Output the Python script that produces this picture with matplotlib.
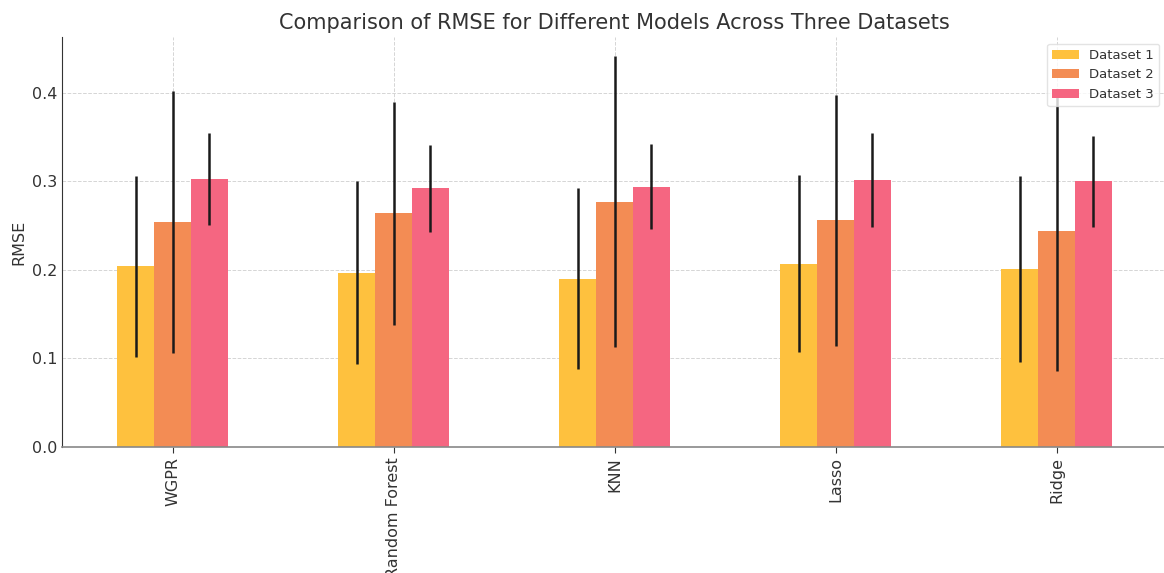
import matplotlib
matplotlib.use("Agg")
import matplotlib.pyplot as plt
import numpy as np

models = ["WGPR", "Random Forest", "KNN", "Lasso", "Ridge"]
series_names = ["Dataset 1", "Dataset 2", "Dataset 3"]
rmse_d1 = [0.204, 0.197, 0.190, 0.207, 0.201]
rmse_d2 = [0.254, 0.264, 0.277, 0.256, 0.244]
rmse_d3 = [0.303, 0.292, 0.294, 0.302, 0.300]
err_d1 = [0.102, 0.103, 0.102, 0.100, 0.105]
err_d2 = [0.148, 0.126, 0.164, 0.142, 0.158]
err_d3 = [0.052, 0.049, 0.048, 0.053, 0.051]

colors = ["#FEC13E", "#F38C54", "#F56681"]
values = [rmse_d1, rmse_d2, rmse_d3]
errors = [err_d1, err_d2, err_d3]

fig = plt.figure(figsize=(11.64, 5.73), dpi=100)
ax = fig.add_axes([62 / 1164, (573 - 447) / 573, (1167 - 62) / 1164, (447 - 37) / 573])

x = np.arange(len(models))
w = 0.5 / 3
for i, (vals, errs, c, name) in enumerate(zip(values, errors, colors, series_names)):
    ax.bar(x + (i - 1) * w, vals, width=w, color=c, label=name,
           yerr=errs, error_kw=dict(ecolor="#1a1a1a", elinewidth=1.8, capsize=0), zorder=2)

ax.set_xlim(-0.5, 4.5)
ax.set_ylim(0, 0.463)
ax.set_xticks(x)
ax.set_xticklabels(models, rotation=90, fontsize=11.5, color="#333333")
ax.set_yticks([0.0, 0.1, 0.2, 0.3, 0.4])
ax.set_yticklabels(["0.0", "0.1", "0.2", "0.3", "0.4"], fontsize=11.5, color="#333333")
ax.tick_params(axis="y", length=0)
ax.tick_params(axis="x", length=4, color="#333333")
ax.set_ylabel("RMSE", fontsize=11.5, color="#333333")
ax.set_title("Comparison of RMSE for Different Models Across Three Datasets",
             fontsize=15, color="#333333", pad=6)
ax.grid(True, linestyle="--", color="#d5d5d5", linewidth=0.7, zorder=0)
ax.set_axisbelow(True)
for s in ["top", "right"]:
    ax.spines[s].set_visible(False)
ax.spines["left"].set_color("#333333")
ax.spines["bottom"].set_color("#888888")
ax.spines["bottom"].set_linewidth(1.2)
leg = ax.legend(loc="upper right", fontsize=9.5, frameon=True, bbox_to_anchor=(0.999, 1.0))
leg.get_frame().set_edgecolor("#dddddd")
for t in leg.get_texts():
    t.set_color("#333333")

fig.savefig("out.png", dpi=100)
